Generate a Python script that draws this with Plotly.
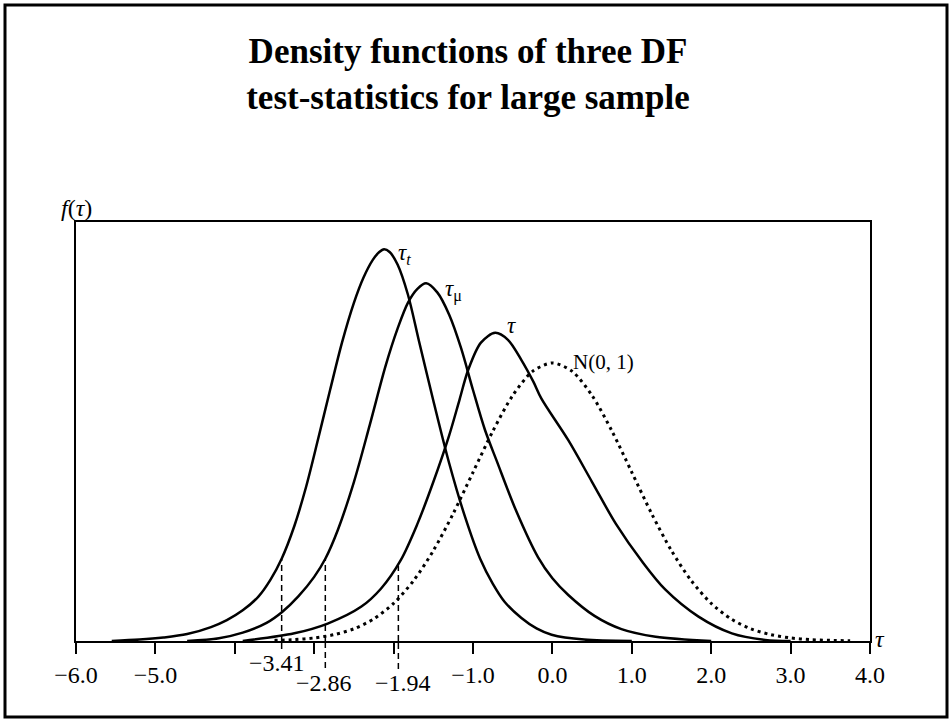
import plotly.graph_objects as go

# ---------------- data ----------------
# tau_t (with constant and trend)
tau_t_x = [-5.55, -5.2, -4.9, -4.6, -4.3, -4.1, -3.9, -3.7, -3.55, -3.41, -3.25, -3.1, -2.95,
           -2.8, -2.65, -2.5, -2.38, -2.26, -2.18, -2.12, -2.05, -1.95, -1.82, -1.68, -1.5,
           -1.3, -1.1, -0.91, -0.75, -0.6, -0.39, -0.2, -0.01, 0.4, 1.0]
tau_t_y = [0.000, 0.002, 0.005, 0.010, 0.020, 0.030, 0.044, 0.064, 0.088, 0.118, 0.165, 0.222, 0.290,
           0.360, 0.428, 0.485, 0.521, 0.547, 0.558, 0.562, 0.558, 0.540, 0.497, 0.430, 0.345,
           0.255, 0.178, 0.118, 0.082, 0.056, 0.033, 0.018, 0.009, 0.002, 0.000]

# tau_mu (with constant)
tau_mu_x = [-4.6, -4.2, -3.9, -3.6, -3.4, -3.2, -3.0, -2.86, -2.7, -2.5, -2.3, -2.1, -1.95,
            -1.82, -1.7, -1.59, -1.45, -1.3, -1.15, -1.0, -0.85, -0.7, -0.45, -0.18, 0.0,
            0.2, 0.53, 0.87, 1.3, 2.0]
tau_mu_y = [0.000, 0.004, 0.012, 0.026, 0.042, 0.064, 0.092, 0.118, 0.160, 0.228, 0.310, 0.395, 0.448,
            0.485, 0.505, 0.513, 0.500, 0.468, 0.420, 0.360, 0.303, 0.258, 0.185, 0.120, 0.090,
            0.066, 0.036, 0.017, 0.006, 0.000]

# tau (no constant)
tau_x = [-3.9, -3.25, -2.83, -2.41, -2.16, -1.91, -1.7, -1.5, -1.3, -1.17, -1.06, -0.9, -0.72,
         -0.56, -0.39, -0.24, -0.14, 0.2, 0.5, 0.8, 1.13, 1.42, 1.84, 2.26, 2.68, 3.0]
tau_y = [0.000, 0.011, 0.025, 0.049, 0.075, 0.116, 0.168, 0.228, 0.295, 0.346, 0.389, 0.428, 0.442,
         0.432, 0.403, 0.372, 0.348, 0.288, 0.228, 0.168, 0.114, 0.074, 0.035, 0.011, 0.0015, 0.000]

# N(0,1) (dotted)
norm_x = [-3.5, -3.25, -3.0, -2.75, -2.5, -2.25, -2.0, -1.75, -1.5, -1.25, -1.0, -0.75, -0.5, -0.25,
          0.0, 0.25, 0.5, 0.75, 1.0, 1.25, 1.5, 1.75, 2.0, 2.25, 2.5, 2.75, 3.0, 3.25, 3.5, 3.75]
norm_y = [0.0009, 0.0020, 0.0044, 0.0091, 0.0175, 0.0317, 0.0540, 0.0863, 0.1295, 0.1826, 0.2420,
          0.3011, 0.3521, 0.3867, 0.3989, 0.3867, 0.3521, 0.3011, 0.2420, 0.1826, 0.1295, 0.0863,
          0.0540, 0.0317, 0.0175, 0.0091, 0.0044, 0.0020, 0.0009, 0.0004]

# critical values (dashed lines) and the height where each dashed line meets its curve
crit_vals = [-3.41, -2.86, -1.94]
crit_tops = [0.118, 0.118, 0.108]
crit_labels = ["\u22123.41", "\u22122.86", "\u22121.94"]

# x-axis ticks
tick_vals = [-6, -5, -1, 0, 1, 2, 3, 4]
tick_text = ["\u22126.0", "\u22125.0", "\u22121.0", "0.0", "1.0", "2.0", "3.0", "4.0"]
unlabeled_ticks = [-4, -3, -2]

# curve labels
curve_label_text = ["<i>\u03c4</i><sub><i>t</i></sub>", "<i>\u03c4</i><sub>\u03bc</sub>", "<i>\u03c4</i>", "N(0, 1)"]
curve_label_x = [-1.86, -1.24, -0.52, 0.64]
curve_label_y = [0.555, 0.503, 0.452, 0.400]

title_text = "<b>Density functions of three DF<br>test-statistics for large sample</b>"

# ---------------- layout constants ----------------
W, H = 952, 722
ML, MR, MT, MB = 76, 82, 222, 81
PW, PH = W - ML - MR, H - MT - MB
SERIF = "Liberation Serif, Times New Roman, serif"


def px_to_paper_x(px):
    return (px - ML) / PW


def px_to_paper_y(py):
    return (H - MB - py) / PH


fig = go.Figure()

for xs, ys in [(tau_t_x, tau_t_y), (tau_mu_x, tau_mu_y), (tau_x, tau_y)]:
    fig.add_trace(go.Scatter(x=xs, y=ys, mode="lines",
                             line=dict(color="black", width=2.5, shape="spline", smoothing=0.9),
                             hoverinfo="skip", showlegend=False))

fig.add_trace(go.Scatter(x=norm_x, y=norm_y, mode="lines",
                         line=dict(color="black", width=3, dash="3px,4px", shape="spline", smoothing=0.8),
                         hoverinfo="skip", showlegend=False))

shapes = []
below = [8, 27, 28]  # pixels the dashed lines reach below the axis
for v, top, b in zip(crit_vals, crit_tops, below):
    shapes.append(dict(type="line", xref="x", yref="y", x0=v, x1=v, y0=0, y1=top,
                       line=dict(color="black", width=1.5, dash="6px,4px")))
    shapes.append(dict(type="line", xref="x", yref="paper", x0=v, x1=v, y0=-b / PH, y1=0,
                       line=dict(color="black", width=1.5, dash="6px,4px")))

# outer frame
shapes.append(dict(type="rect", xref="paper", yref="paper",
                   x0=px_to_paper_x(5), x1=px_to_paper_x(947),
                   y0=px_to_paper_y(717), y1=px_to_paper_y(5),
                   line=dict(color="black", width=3), fillcolor="rgba(0,0,0,0)"))

annotations = []
for i, (t, x, y) in enumerate(zip(curve_label_text, curve_label_x, curve_label_y)):
    annotations.append(dict(x=x, y=y, xref="x", yref="y", text=t, showarrow=False,
                            font=dict(family=SERIF, size=21 if i == 3 else 23, color="black"),
                            xanchor="center", yanchor="middle"))

# critical value labels
label_rows = [0, 1, 1]
label_dx = [-0.06, -0.02, 0.06]
for v, t, r, dx in zip(crit_vals, crit_labels, label_rows, label_dx):
    annotations.append(dict(x=v + dx, y=0, xref="x", yref="paper", text=t, showarrow=False,
                            font=dict(family=SERIF, size=24, color="black"),
                            xanchor="center", yanchor="middle", yshift=-22 - 20 * r))

# axis labels
annotations.append(dict(x=0, y=1, xref="paper", yref="paper", text="<i>f</i>(<i>\u03c4</i>)",
                        showarrow=False, font=dict(family=SERIF, size=24, color="black"),
                        xanchor="center", yanchor="middle", yshift=14))
annotations.append(dict(x=4, y=0, xref="x", yref="paper", text="<i>\u03c4</i>",
                        showarrow=False, font=dict(family=SERIF, size=24, color="black"),
                        xanchor="left", yanchor="middle", xshift=3, yshift=2))

fig.update_layout(
    width=W, height=H,
    margin=dict(l=ML, r=MR, t=MT, b=MB),
    paper_bgcolor="white", plot_bgcolor="white",
    title=dict(text=title_text, x=468 / W, xanchor="center", xref="container",
               y=1 - 63 / H, yanchor="top", yref="container",
               font=dict(family=SERIF, size=35, color="black")),
    shapes=shapes, annotations=annotations,
    xaxis=dict(range=[-6, 4], showgrid=False, zeroline=False,
               showline=True, mirror=True, linecolor="black", linewidth=2,
               ticks="outside", ticklen=11, tickwidth=1.5, tickcolor="black",
               tickmode="array", tickvals=tick_vals, ticktext=tick_text,
               tickfont=dict(family=SERIF, size=24, color="black"),
               minor=dict(tickmode="array", tickvals=unlabeled_ticks, ticks="outside",
                          ticklen=11, tickwidth=1.5, tickcolor="black", showgrid=False)),
    yaxis=dict(range=[0, 0.601], showgrid=False, zeroline=False,
               showline=True, mirror=True, linecolor="black", linewidth=2,
               showticklabels=False, ticks=""),
)

fig.write_html("out.html")
